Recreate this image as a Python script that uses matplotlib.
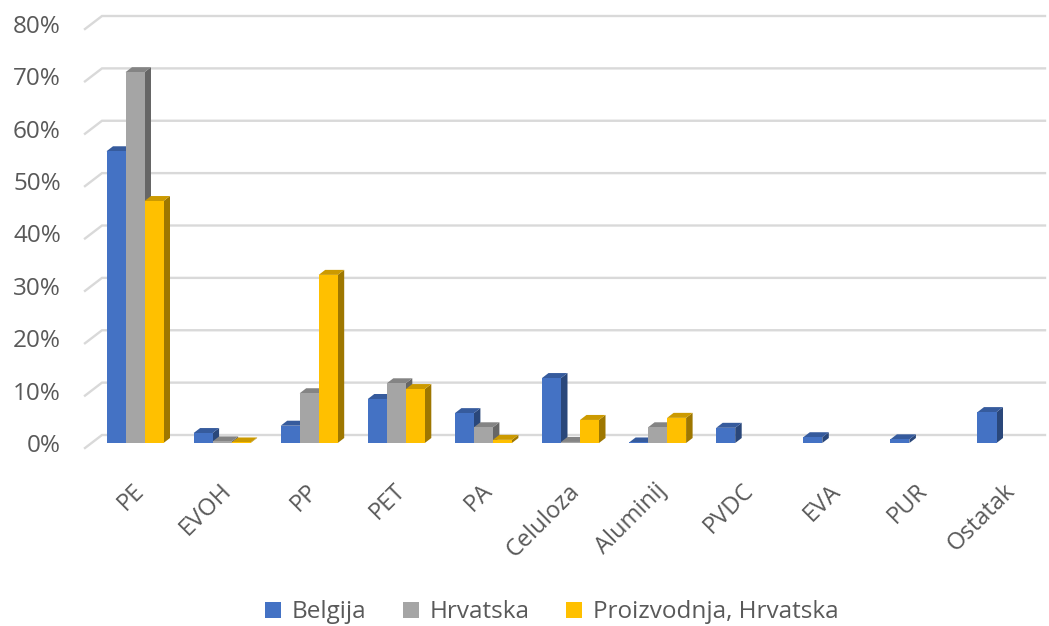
import numpy as np
import matplotlib.pyplot as plt
from matplotlib.patches import Polygon, Patch
from matplotlib.transforms import offset_copy
import matplotlib.colors as mcolors

plt.rcParams['font.family'] = ['Open Sans', 'DejaVu Sans']

categories = ['PE', 'EVOH', 'PP', 'PET', 'PA', 'Celuloza', 'Aluminij',
              'PVDC', 'EVA', 'PUR', 'Ostatak']
belgija = [55.7, 1.9, 3.3, 8.4, 5.7, 12.4, 0.1, 2.9, 1.1, 0.7, 5.9]
hrvatska = [70.8, 0.3, 9.5, 11.4, 3.0, 0.2, 3.0, None, None, None, None]
proizvodnja = [46.2, 0.1, 32.1, 10.3, 0.6, 4.4, 4.8, None, None, None, None]
series_names = ['Belgija', 'Hrvatska', 'Proizvodnja, Hrvatska']
colors = ['#4472C4', '#A5A5A5', '#FFC000']
yticks = [0, 10, 20, 30, 40, 50, 60, 70, 80]

W, H = 1049, 626
fig = plt.figure(figsize=(W / 100, H / 100), dpi=100)
# front plane of the bars: x 85..1045 px, value 0 at y=443 px, 80 at y=24 px
ax = fig.add_axes([85 / W, (H - 443) / H, 960 / W, 419 / H])
ax.set_axis_off()
x0 = (85 - 135) / 87.1
x1 = (1045 - 135) / 87.1
ax.set_xlim(x0, x1)
ax.set_ylim(0, 80)

ppx = 960 / (x1 - x0)      # pixels per category
ppy = 419 / 80             # pixels per percent
text_col = '#595959'
grid_col = '#D9D9D9'

# gridlines on back wall + slanted left wall segment
for v in yticks:
    yb = v + 8 / ppy
    yf = v - 5 / ppy
    xb = x0 + 17 / ppx
    ax.plot([x0, xb, x1], [yf, yb, yb], color=grid_col, lw=1.7,
            clip_on=False, zorder=0, solid_joinstyle='miter')
    ax.text(x0 - 24 / ppx, v - 3 / ppy, f'{v}%', ha='right', va='center',
            fontsize=17.5, color=text_col)

def darker(c, f):
    r, g, b = mcolors.to_rgb(c)
    return (r * f, g * f, b * f)

bw = 19 / ppx
dx = 6.5 / ppx
dy = 5 / ppy
data = [belgija, hrvatska, proizvodnja]
x = np.arange(len(categories))
for i in x:
    for s, vals in enumerate(data):
        v = vals[i]
        if v is None:
            continue
        c = colors[s]
        xl = i + (s - 1) * bw - bw / 2
        xr = xl + bw
        top = Polygon([(xl, v), (xr, v), (xr + dx, v + dy), (xl + dx, v + dy)],
                      closed=True, facecolor=darker(c, 0.8), edgecolor='none',
                      clip_on=False, zorder=2)
        side = Polygon([(xr, 0), (xr, v), (xr + dx, v + dy), (xr + dx, dy)],
                       closed=True, facecolor=darker(c, 0.62), edgecolor='none',
                       clip_on=False, zorder=2)
        ax.add_patch(side)
        ax.add_patch(top)
        ax.bar(xl, v, bw, align='edge', color=c, zorder=2, clip_on=False)

# rotated category labels
lab_tr = offset_copy(ax.transData, fig=fig, x=-3, y=-36, units='dots')
for i, name in enumerate(categories):
    ax.text(i, 0, name, transform=lab_tr, rotation=45, ha='right', va='top',
            rotation_mode='anchor', fontsize=17, color=text_col)

handles = [Patch(facecolor=c, edgecolor='none') for c in colors]
fig.legend(handles, series_names, loc='center', bbox_to_anchor=(0.526, 0.022),
           ncol=3, frameon=False, fontsize=17.5, labelcolor=text_col,
           handlelength=0.65, handleheight=0.65, handletextpad=0.45,
           columnspacing=1.5)

fig.savefig('out.png', dpi=100)
